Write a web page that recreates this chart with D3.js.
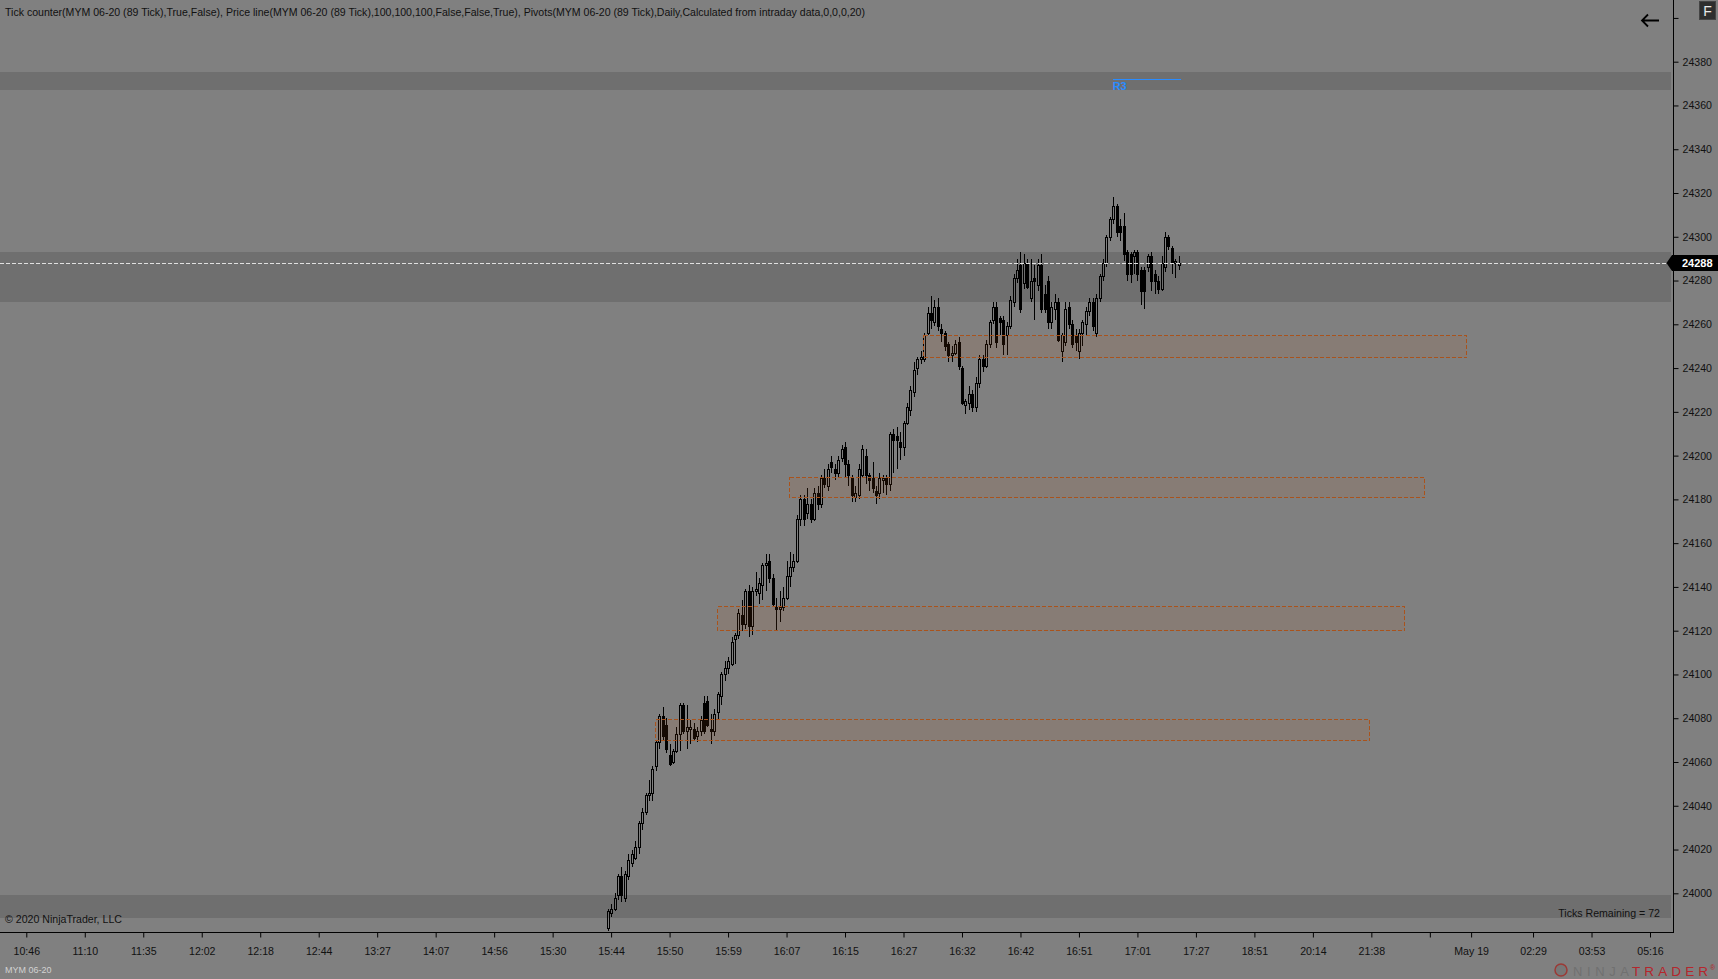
<!DOCTYPE html>
<html><head><meta charset="utf-8">
<script src="https://cdn.jsdelivr.net/npm/d3@7"></script>
<style>
html,body{margin:0;padding:0;background:#808080;overflow:hidden}
svg{display:block}
text{font-family:"Liberation Sans",Arial,sans-serif}
</style>
</head><body>
<svg id="c" width="1718" height="979"></svg>
<script>
// ---- candle data (89-tick bars, MYM 06-20) ----
const openP = [
23984,23991,23993,23999,24008,23998,24008,24014,24016,24021,
24032,24037,24045,24046,24058,24069,24081,24077,24063,24060,
24065,24073,24086,24074,24075,24075,24072,24074,24087,24088,
24075,24074,24083,24090,24100,24103,24105,24116,24118,24127,
24123,24138,24122,24138,24137,24141,24150,24152,24144,24131,
24130,24131,24135,24145,24149,24152,24171,24180,24174,24178,
24171,24183,24178,24190,24186,24197,24194,24192,24199,24204,
24196,24190,24181,24182,24191,24200,24191,24190,24184,24183,
24189,24190,24187,24210,24209,24206,24204,24215,24221,24229,
24240,24244,24244,24256,24265,24261,24268,24258,24256,24251,
24246,24247,24252,24240,24223,24224,24228,24222,24233,24244,
24241,24251,24262,24268,24263,24262,24255,24259,24270,24281,
24287,24279,24288,24272,24281,24278,24287,24274,24280,24261,
24267,24270,24248,24252,24268,24260,24255,24248,24256,24260,
24266,24270,24256,24272,24282,24288,24300,24308,24314,24305,
24305,24293,24292,24291,24293,24285,24285,24286,24291,24283,
24280,24276,24286,24300,24295,24288,24287];
const highP = [
23993,23995,24000,24009,24012,24010,24018,24020,24024,24033,
24039,24046,24052,24058,24070,24082,24085,24080,24068,24066,
24076,24087,24087,24086,24079,24078,24076,24081,24090,24090,
24082,24084,24092,24101,24106,24108,24117,24119,24130,24134,
24139,24141,24140,24147,24144,24151,24155,24155,24146,24135,
24138,24140,24152,24156,24155,24173,24182,24182,24185,24180,
24185,24186,24191,24194,24196,24200,24196,24200,24205,24206,
24198,24191,24186,24196,24205,24203,24192,24197,24186,24192,
24191,24191,24211,24212,24213,24211,24216,24224,24232,24243,
24245,24248,24256,24268,24273,24271,24272,24260,24257,24252,
24250,24253,24254,24241,24226,24232,24230,24236,24246,24246,
24253,24262,24270,24270,24264,24264,24261,24273,24283,24290,
24293,24292,24290,24290,24287,24290,24292,24278,24282,24270,
24274,24272,24256,24270,24270,24262,24258,24258,24262,24268,
24272,24272,24274,24283,24290,24301,24309,24318,24315,24308,
24311,24294,24293,24294,24294,24286,24286,24292,24293,24285,
24282,24291,24302,24301,24296,24290,24291];
const lowP = [
23983,23989,23992,23997,23996,23996,24006,24012,24015,24018,
24029,24036,24042,24042,24056,24066,24070,24064,24058,24059,
24064,24065,24073,24066,24068,24070,24069,24072,24073,24076,
24068,24072,24079,24086,24097,24100,24104,24105,24116,24120,
24121,24117,24118,24136,24132,24134,24138,24142,24131,24120,
24124,24129,24134,24140,24147,24151,24168,24168,24171,24169,
24170,24175,24176,24185,24184,24192,24189,24190,24197,24190,
24186,24179,24179,24180,24190,24187,24184,24183,24178,24180,
24183,24182,24184,24192,24194,24198,24200,24214,24218,24227,
24237,24242,24243,24255,24258,24259,24257,24252,24248,24243,
24243,24246,24239,24223,24219,24221,24220,24220,24231,24238,
24240,24249,24260,24249,24255,24246,24246,24258,24268,24279,
24265,24276,24276,24270,24262,24275,24265,24265,24258,24258,
24262,24252,24243,24250,24258,24249,24248,24244,24250,24255,
24264,24257,24254,24270,24280,24286,24298,24306,24300,24298,
24289,24280,24279,24283,24280,24269,24267,24284,24275,24274,
24274,24275,24284,24294,24283,24281,24285];
const closeP = [
23992,23993,23998,24008,23999,24009,24015,24018,24021,24032,
24037,24045,24046,24057,24069,24081,24072,24066,24059,24065,
24073,24086,24074,24076,24076,24071,24074,24079,24074,24077,
24074,24082,24091,24100,24103,24106,24115,24118,24128,24123,
24138,24122,24138,24139,24142,24150,24151,24144,24132,24130,
24131,24135,24145,24149,24152,24171,24180,24171,24178,24171,
24183,24178,24190,24187,24194,24195,24192,24198,24203,24196,
24191,24182,24183,24194,24203,24191,24189,24185,24182,24190,
24190,24187,24210,24207,24207,24204,24215,24222,24230,24239,
24244,24245,24255,24265,24262,24268,24259,24256,24250,24246,
24247,24251,24241,24224,24225,24228,24222,24233,24244,24241,
24251,24261,24268,24252,24261,24251,24259,24271,24281,24285,
24267,24288,24277,24280,24280,24287,24267,24267,24261,24268,
24270,24253,24255,24267,24260,24251,24252,24256,24261,24266,
24270,24259,24272,24282,24288,24300,24308,24314,24302,24302,
24292,24283,24283,24293,24283,24275,24275,24291,24280,24280,
24276,24288,24300,24296,24288,24289,24288];

// ---- time axis (bar index of each label) ----
const timeLabels = ["10:46","11:10","11:35","12:02","12:18","12:44","13:27","14:07","14:56","15:30",
  "15:44","15:50","15:59","16:07","16:15","16:27","16:32","16:42","16:51","17:01",
  "17:27","18:51","20:14","21:38","","May 19","02:29","03:53","05:16"];
const timeTickIdx = [-169,-152,-135,-118,-101,-84,-67,-50,-33,-16,
  1,18,35,52,69,86,103,120,137,154,
  171,188,205,222,239,251,269,286,303];

// ---- price axis ----
const priceTicks = [24000,24020,24040,24060,24080,24100,24120,24140,24160,24180,24200,
  24220,24240,24260,24280,24300,24320,24340,24360,24380,24400];
const priceLabels = [24000,24020,24040,24060,24080,24100,24120,24140,24160,24180,24200,
  24220,24240,24260,24280,24300,24320,24340,24360,24380];

// ---- shaded pivot bands ----
const bandHigh = [24375.3, 24293.2, 23999.2];
const bandLow  = [24367.2, 24270.3, 23988.9];

// ---- zone rectangles ----
const zoneStart = [13.8, 31.9, 52.7, 91.7];
const zoneEnd   = [221.5, 231.7, 237.4, 249.5];
const zoneHigh  = [24079.5, 24131.1, 24190.1, 24255.0];
const zoneLow   = [24069.7, 24120.2, 24181.0, 24244.9];

// ---- pivots ----
const pivotName = ["R3"];
const pivotValue = [24372];
const pivotStart = [146.8];
const pivotEnd = [166.6];

const lastPrice = 24288;
const ticksRemaining = 72;

// ---- layout ----
const W = 1718, H = 979;
const plotRight = 1673, plotBottom = 932;
const x = d3.scaleLinear().domain([-169, 303]).range([26.3, 1650]);
const y = d3.scaleLinear().domain([24000, 24380]).range([893.3, 61.7]);
const px = v => Math.round(v) + 0.5;

const svg = d3.select("#c");
svg.append("rect").attr("width", W).attr("height", H).attr("fill", "#808080");

const defs = svg.append("defs");
defs.append("clipPath").attr("id", "plotclip").append("rect")
  .attr("x", 0).attr("y", 0).attr("width", plotRight).attr("height", plotBottom);

const plot = svg.append("g").attr("clip-path", "url(#plotclip)");

// bands
plot.selectAll("rect.band").data(bandHigh.map((h, i) => ({h, l: bandLow[i]})))
  .join("rect").attr("class", "band")
  .attr("x", 0).attr("width", 1671)
  .attr("y", d => Math.round(y(d.h))).attr("height", d => Math.round(y(d.l)) - Math.round(y(d.h)))
  .attr("fill", "#6f6f6f");

// candles
const bars = openP.map((o, i) => ({i, o, h: highP[i], l: lowP[i], c: closeP[i]}));
const cg = plot.append("g").attr("shape-rendering", "crispEdges");
bars.forEach(d => {
  const cx = Math.round(x(d.i));
  const top = Math.round(y(Math.max(d.o, d.c))) + 0.5;
  let bot = Math.round(y(Math.min(d.o, d.c))) + 0.5;
  if (bot - top < 1) bot = top + 1;
  const yh = Math.round(y(d.h)), yl = Math.round(y(d.l));
  if (yh < top) cg.append("line").attr("x1", cx + 0.5).attr("x2", cx + 0.5)
    .attr("y1", yh).attr("y2", top).attr("stroke", "#000").attr("stroke-width", 1);
  if (yl > bot) cg.append("line").attr("x1", cx + 0.5).attr("x2", cx + 0.5)
    .attr("y1", bot).attr("y2", yl).attr("stroke", "#000").attr("stroke-width", 1);
  cg.append("rect").attr("x", cx - 0.5).attr("width", 2)
    .attr("y", top).attr("height", bot - top)
    .attr("fill", d.c < d.o ? "#000" : "none")
    .attr("stroke", "#000").attr("stroke-width", 1);
});

// zones
plot.selectAll("rect.zone").data(zoneStart.map((s, i) => ({s, e: zoneEnd[i], h: zoneHigh[i], l: zoneLow[i]})))
  .join("rect").attr("class", "zone")
  .attr("shape-rendering", "crispEdges")
  .attr("x", d => px(x(d.s))).attr("width", d => Math.round(x(d.e) - x(d.s)))
  .attr("y", d => px(y(d.h))).attr("height", d => Math.round(y(d.l) - y(d.h)))
  .attr("fill", "rgba(190,90,30,0.11)")
  .attr("stroke", "#a9531c").attr("stroke-width", 1).attr("stroke-dasharray", "4,2");

// pivots
pivotName.forEach((n, i) => {
  plot.append("line").attr("x1", x(pivotStart[i])).attr("x2", x(pivotEnd[i]))
    .attr("y1", px(y(pivotValue[i]))).attr("y2", px(y(pivotValue[i])))
    .attr("stroke", "#2a8cff").attr("stroke-width", 1).attr("shape-rendering", "crispEdges");
  plot.append("text").attr("x", x(pivotStart[i])).attr("y", y(pivotValue[i]) + 11)
    .attr("font-size", 11).attr("font-weight", "bold").attr("fill", "#2a8cff").text(n);
});

// price line
plot.append("line").attr("x1", 0).attr("x2", 1666)
  .attr("y1", px(y(lastPrice))).attr("y2", px(y(lastPrice)))
  .attr("stroke", "#e0e0e0").attr("stroke-width", 1).attr("stroke-dasharray", "4,2")
  .attr("shape-rendering", "crispEdges");

// axes
const yAxis = d3.axisRight(y).tickValues(priceTicks).tickSize(5).tickPadding(4)
  .tickFormat(v => priceLabels.includes(v) ? String(v) : "");
const gy = svg.append("g").attr("transform", `translate(${plotRight + 0.5},0)`).call(yAxis);
gy.select(".domain").remove();
gy.selectAll("line").attr("stroke", "#000");
gy.selectAll("text").attr("font-size", 10.6).attr("fill", "#111")
  .attr("font-family", '"Liberation Sans",Arial,sans-serif');

const xAxis = d3.axisBottom(x).tickValues(timeTickIdx).tickSize(5).tickPadding(10)
  .tickFormat((v, i) => timeLabels[i]);
const gx = svg.append("g").attr("transform", `translate(0,${plotBottom + 0.5})`).call(xAxis);
gx.select(".domain").remove();
gx.selectAll("line").attr("stroke", "#000");
gx.selectAll("text").attr("font-size", 10.6).attr("fill", "#111")
  .attr("font-family", '"Liberation Sans",Arial,sans-serif');

// frame lines
svg.append("line").attr("x1", 0).attr("x2", plotRight + 1).attr("y1", plotBottom + 0.5).attr("y2", plotBottom + 0.5)
  .attr("stroke", "#000").attr("stroke-width", 1);
svg.append("line").attr("x1", plotRight + 0.5).attr("x2", plotRight + 0.5).attr("y1", 0).attr("y2", plotBottom + 1)
  .attr("stroke", "#000").attr("stroke-width", 1);

// last price marker
const ly = y(lastPrice);
svg.append("path")
  .attr("d", `M1666.5,${ly} L1672,${ly - 8} L1718,${ly - 8} L1718,${ly + 8} L1672,${ly + 8} Z`)
  .attr("fill", "#000");
svg.append("text").attr("x", 1682).attr("y", ly + 4).attr("font-size", 11).attr("font-weight", "bold")
  .attr("fill", "#fff").text(String(lastPrice));

// texts
svg.append("text").attr("x", 5).attr("y", 15.5).attr("font-size", 10.6).attr("fill", "#111")
  .attr("textLength", 860).attr("lengthAdjust", "spacingAndGlyphs")
  .text("Tick counter(MYM 06-20 (89 Tick),True,False), Price line(MYM 06-20 (89 Tick),100,100,100,False,False,True), Pivots(MYM 06-20 (89 Tick),Daily,Calculated from intraday data,0,0,0,20)");
svg.append("text").attr("x", 5).attr("y", 923).attr("font-size", 10.6).attr("fill", "#111")
  .text("© 2020 NinjaTrader, LLC");
svg.append("text").attr("x", 1660).attr("y", 917).attr("font-size", 10.6).attr("fill", "#111")
  .attr("text-anchor", "end").text("Ticks Remaining = " + ticksRemaining);
svg.append("text").attr("x", 5).attr("y", 973).attr("font-size", 9).attr("fill", "#d2d2d2")
  .text("MYM 06-20");

// top-right controls
svg.append("path").attr("d", "M1659,20.5 H1642 M1648,14.5 L1642,20.5 L1648,26.5")
  .attr("fill", "none").attr("stroke", "#000").attr("stroke-width", 1.8);
svg.append("rect").attr("x", 1699.5).attr("y", 1.5).attr("width", 16).attr("height", 18)
  .attr("fill", "#2e2e2e").attr("stroke", "#444");
svg.append("text").attr("x", 1707.5).attr("y", 16).attr("font-size", 14).attr("fill", "#e8e8e8")
  .attr("text-anchor", "middle").text("F");

// logo
const lg = svg.append("g");
lg.append("circle").attr("cx", 1561).attr("cy", 970).attr("r", 6)
  .attr("fill", "#777").attr("stroke", "#9b3a36").attr("stroke-width", 1.5);
lg.append("text").attr("x", 1573).attr("y", 975.5).attr("font-size", 13).attr("fill", "#707070")
  .attr("textLength", 56).attr("lengthAdjust", "spacing").text("NINJA");
lg.append("text").attr("x", 1632).attr("y", 975.5).attr("font-size", 13.5).attr("fill", "#b5262c")
  .attr("textLength", 76).attr("lengthAdjust", "spacing").text("TRADER");
lg.append("text").attr("x", 1710).attr("y", 970).attr("font-size", 7).attr("fill", "#b5262c").text("®");
</script>
</body></html>
